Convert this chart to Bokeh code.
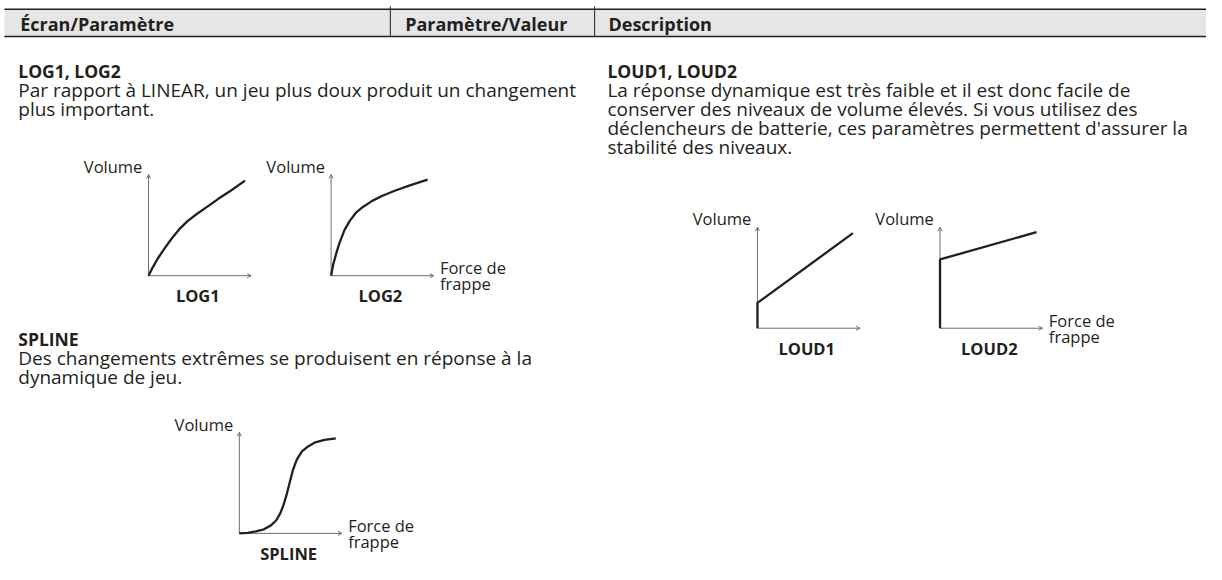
from bokeh.plotting import figure
from bokeh.models import Range1d, Arrow, OpenHead
from bokeh.core.properties import value
from bokeh.embed import file_html
from bokeh.resources import INLINE

# ---------------- data ----------------
header_labels = ["Écran/Paramètre", "Paramètre/Valeur", "Description"]

log_title = "LOG1, LOG2"
log_lines = ["Par rapport à LINEAR, un jeu plus doux produit un changement",
             "plus important."]
spline_title = "SPLINE"
spline_lines = ["Des changements extrêmes se produisent en réponse à la",
                "dynamique de jeu."]
loud_title = "LOUD1, LOUD2"
loud_lines = ["La réponse dynamique est très faible et il est donc facile de",
              "conserver des niveaux de volume élevés. Si vous utilisez des",
              "déclencheurs de batterie, ces paramètres permettent d'assurer la",
              "stabilité des niveaux."]

y_label = "Volume"
x_label = ["Force de", "frappe"]

log1_x = [0, 0.04, 0.09, 0.15, 0.22, 0.30, 0.38, 0.47, 0.57, 0.68, 0.80, 0.94]
log1_y = [0, 0.08, 0.17, 0.26, 0.36, 0.46, 0.54, 0.61, 0.68, 0.76, 0.84, 0.94]

log2_x = [0, 0.02, 0.05, 0.08, 0.13, 0.18, 0.24, 0.31, 0.40, 0.50, 0.62, 0.76, 0.94]
log2_y = [0, 0.11, 0.22, 0.32, 0.45, 0.54, 0.62, 0.68, 0.74, 0.79, 0.84, 0.89, 0.95]

spline_x = [0, 0.08, 0.16, 0.24, 0.31, 0.36, 0.40, 0.43, 0.46, 0.49, 0.52, 0.56,
            0.61, 0.67, 0.74, 0.83, 0.94]
spline_y = [0, 0.005, 0.02, 0.04, 0.08, 0.13, 0.20, 0.28, 0.38, 0.50, 0.62, 0.73,
            0.81, 0.86, 0.90, 0.925, 0.94]

loud1_x = [0, 0, 0.93]
loud1_y = [0, 0.25, 0.94]

loud2_x = [0, 0, 0.94]
loud2_y = [0, 0.68, 0.95]

# diagrams: name, curve x, curve y, origin (reference px), show x label
diagrams = [
    ("LOG1", log1_x, log1_y, (150, 283), False),
    ("LOG2", log2_x, log2_y, (335, 283), True),
    ("SPLINE", spline_x, spline_y, (242, 548), True),
    ("LOUD1", loud1_x, loud1_y, (767, 337), False),
    ("LOUD2", loud2_x, loud2_y, (952, 337), True),
]

# ---------------- style ----------------
W, H = 1206, 564          # figure size in screen px
RW, RH = 1222, 580        # layout coordinate space (reference frame)
S = 104                   # axis length
INK = "#231f20"
AXC = "#6d6e71"
FONT = value("Open Sans")

p = figure(width=W, height=H, output_backend="svg", toolbar_location=None,
           x_range=Range1d(0, RW), y_range=Range1d(RH, 0),
           min_border=0, background_fill_color="white", border_fill_color="white")
p.axis.visible = False
p.grid.visible = False
p.outline_line_color = None

# ---------------- header band ----------------
HB_TOP, HB_BOT = 9, 37
p.quad(left=[4], right=[RW], top=[HB_TOP], bottom=[HB_BOT], fill_color="#e6e6e6", line_color=None)
p.segment(x0=[4, 4], x1=[RW, RW], y0=[HB_TOP, HB_BOT], y1=[HB_TOP, HB_BOT],
          line_color=INK, line_width=1.4)
p.segment(x0=[395, 602], x1=[395, 602], y0=[6, 6], y1=[HB_BOT, HB_BOT], line_color=INK, line_width=1)
p.text(x=[20, 410, 616], y=[(HB_TOP + HB_BOT) / 2 + 1] * 3, text=header_labels, text_font=FONT,
       text_font_style="bold", text_font_size="18px", text_baseline="middle", text_color=INK)

# ---------------- paragraphs ----------------
def paragraph(x, y, title, lines, step=19.7):
    p.text(x=[x], y=[y], text=[title], text_font=FONT, text_font_style="bold",
           text_font_size="17.5px", text_baseline="middle", text_color=INK)
    p.text(x=[x] * len(lines), y=[y + step * (i + 1) for i in range(len(lines))], text=lines,
           text_font=FONT, text_font_size="19px", text_baseline="middle", text_color=INK)

paragraph(18, 72, log_title, log_lines)
paragraph(18, 348, spline_title, spline_lines)
paragraph(615, 72, loud_title, loud_lines)

# ---------------- diagrams ----------------
xr = dict(p.extra_x_ranges)
yr = dict(p.extra_y_ranges)
for name, cx, cy, (ox, oy), show_x in diagrams:
    xr[name] = Range1d((0 - ox) / S, (RW - ox) / S)
    yr[name] = Range1d((oy - RH) / S, (oy - 0) / S)
p.extra_x_ranges = xr
p.extra_y_ranges = yr

for name, cx, cy, (ox, oy), show_x in diagrams:
    kw = dict(x_range_name=name, y_range_name=name)
    for xe, ye in ((1, 0), (0, 1)):
        p.add_layout(Arrow(end=OpenHead(size=4, line_width=1, line_color=AXC),
                           x_start=0, y_start=0, x_end=xe, y_end=ye, level="underlay",
                           line_color=AXC, line_width=1, **kw))
    r = p.line(cx, cy, line_color=INK, line_width=2.3, **kw)
    r.level = "overlay"
    p.text(x=[-0.06], y=[1.08], text=[y_label], text_align="right", text_baseline="middle",
           text_font=FONT, text_font_size="16.5px", text_color=INK, **kw)
    p.text(x=[0.48], y=[-0.2], text=[name], text_align="center", text_baseline="middle",
           text_font=FONT, text_font_style="bold", text_font_size="16.5px", text_color=INK, **kw)
    if show_x:
        p.text(x=[1.06, 1.06], y=[0.08, -0.08], text=x_label, text_baseline="middle",
               text_font=FONT, text_font_size="16.5px", text_color=INK, **kw)

open("out.html", "w").write(file_html(p, INLINE))
